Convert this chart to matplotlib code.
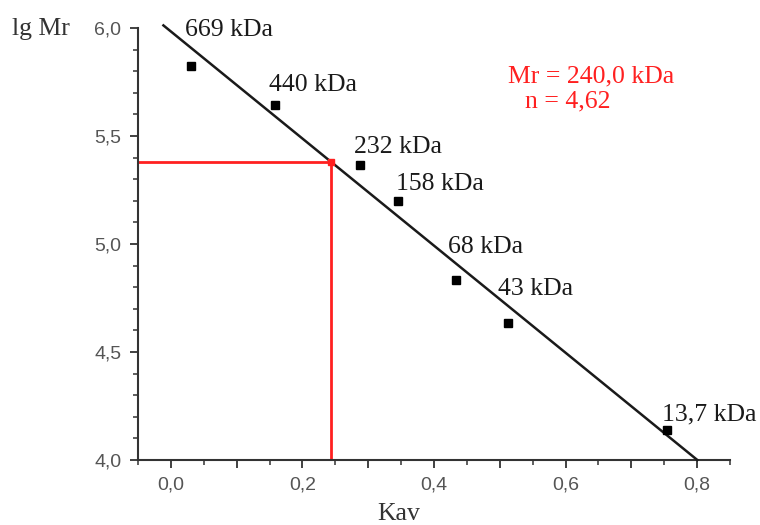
import numpy as np
import matplotlib
matplotlib.use("Agg")
import matplotlib.pyplot as plt
from matplotlib.ticker import MultipleLocator, FuncFormatter

# Data
labels = ["669 kDa", "440 kDa", "232 kDa", "158 kDa", "68 kDa", "43 kDa", "13,7 kDa"]
mass_kda = [669, 440, 232, 158, 68, 43, 13.7]
kav = [0.030, 0.159, 0.287, 0.346, 0.433, 0.513, 0.754]
unknown_mr_kda = 240.0
n_value = 4.62

lg_mr = np.log10(np.array(mass_kda) * 1000.0)

# Layout: label anchor positions (data coords, left/baseline)
label_pos = [(0.021, 5.963), (0.149, 5.71), (0.278, 5.421), (0.342, 5.25),
             (0.422, 4.958), (0.498, 4.764), (0.747, 4.185)]

serif = ["Liberation Serif", "DejaVu Serif"]
sans = ["Liberation Sans", "DejaVu Sans"]

fig = plt.figure(figsize=(7.6, 5.25), dpi=100)
ax = fig.add_axes([138/760, 1-460/525, (730-138)/760, (460-28)/525])

# Linear fit
slope, intercept = np.polyfit(kav, lg_mr, 1)
x_start = (6.012 - intercept) / slope
x_end = (4.0 - intercept) / slope
xs = np.array([x_start, x_end])
ax.plot(xs, slope * xs + intercept, color="#1a1a1a", lw=1.8, zorder=3, clip_on=False)

ax.plot(kav, lg_mr, ls="none", marker="s", ms=5.2, color="black", zorder=4)

# Unknown protein
y_u = np.log10(unknown_mr_kda * 1000.0)
x_u = (y_u - intercept) / slope
ax.plot([-0.05, x_u], [y_u, y_u], color="#ff2020", lw=2.0, zorder=2)
ax.plot([x_u, x_u], [4.0, y_u], color="#ff2020", lw=2.0, zorder=2)
ax.plot([x_u], [y_u], ls="none", marker="s", ms=5, color="#ff2020", zorder=5)

for lab, (lx, ly) in zip(labels, label_pos):
    ax.text(lx, ly, lab, family=serif, fontsize=18.5, color="#1a1a1a",
            ha="left", va="baseline")

ax.text(0.513, 5.75, f"Mr = {unknown_mr_kda:.1f} kDa".replace(".", ","),
        family=serif, fontsize=18.5, color="#ff2020", ha="left", va="baseline")
ax.text(0.539, 5.634, f"n = {n_value:.2f}".replace(".", ","),
        family=serif, fontsize=18.5, color="#ff2020", ha="left", va="baseline")

ax.set_xlim(-0.05, 0.85)
ax.set_ylim(4.0, 6.0)

for s in ["top", "right"]:
    ax.spines[s].set_visible(False)
for s in ["left", "bottom"]:
    ax.spines[s].set_color("#333333")
    ax.spines[s].set_linewidth(1.5)

ax.xaxis.set_major_locator(MultipleLocator(0.1))
ax.xaxis.set_minor_locator(MultipleLocator(0.05))
ax.yaxis.set_major_locator(MultipleLocator(0.5))
ax.yaxis.set_minor_locator(MultipleLocator(0.1))

def xfmt(v, pos):
    k = int(round(v * 10))
    if k % 2 != 0:
        return ""
    return f"{v:.1f}".replace(".", ",").replace("-0,0", "0,0")

def yfmt(v, pos):
    return f"{v:.1f}".replace(".", ",")

ax.xaxis.set_major_formatter(FuncFormatter(xfmt))
ax.yaxis.set_major_formatter(FuncFormatter(yfmt))

ax.tick_params(which="major", direction="out", length=6, width=1.3, color="#333333",
               labelsize=14, labelcolor="#555555", pad=6)
ax.tick_params(which="minor", direction="out", length=3.5, width=1.1, color="#333333")
for t in ax.get_xticklabels() + ax.get_yticklabels():
    t.set_family(sans)

fig.text(12/760, 1-35/525, "lg Mr", family=serif, fontsize=18.5, color="#333333",
         ha="left", va="baseline")
fig.text(399/760, 1-520/525, "Kav", family=serif, fontsize=18.5, color="#333333",
         ha="center", va="baseline")

fig.savefig("out.png", dpi=100)
